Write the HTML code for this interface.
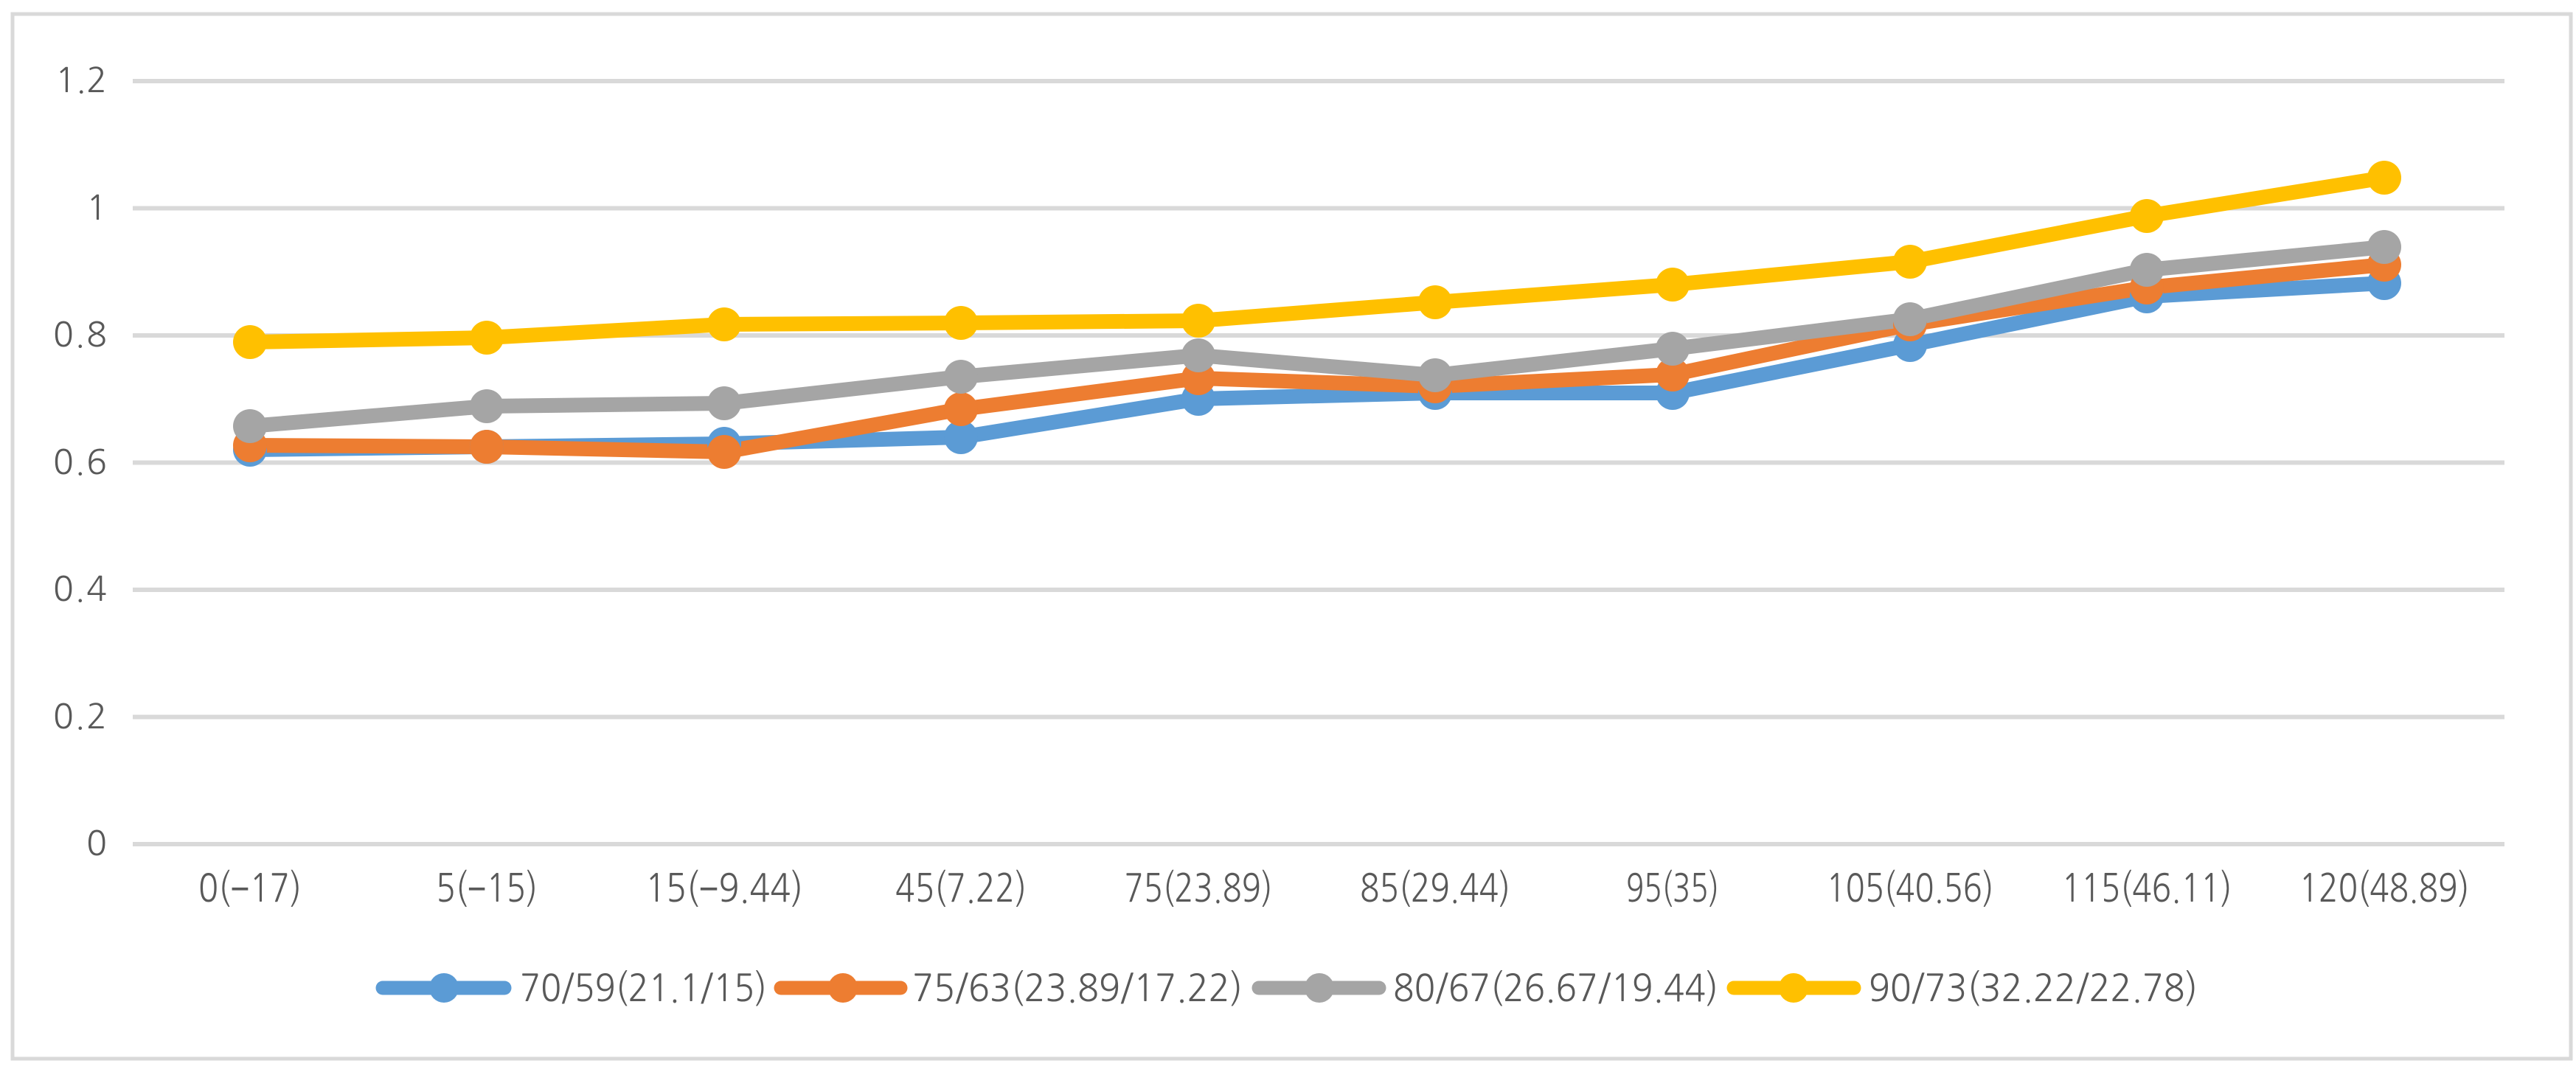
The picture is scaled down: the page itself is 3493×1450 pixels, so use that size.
<!DOCTYPE html>
<html><head><meta charset="utf-8"><style>html,body{margin:0;padding:0;background:#fff}svg{display:block}</style></head>
<body>
<svg width="3493" height="1450" xmlns="http://www.w3.org/2000/svg" font-family="'NanumGothic','Liberation Sans',sans-serif" fill="#595959">
<rect x="0" y="0" width="3493" height="1450" fill="#fff"/>
<rect x="17" y="19" width="3469" height="1417" fill="none" stroke="#d9d9d9" stroke-width="5"/>
<g stroke="#d9d9d9" stroke-width="6">
<line x1="180" x2="3396" y1="1145" y2="1145"/>
<line x1="180" x2="3396" y1="972.5" y2="972.5"/>
<line x1="180" x2="3396" y1="800" y2="800"/>
<line x1="180" x2="3396" y1="627.5" y2="627.5"/>
<line x1="180" x2="3396" y1="455" y2="455"/>
<line x1="180" x2="3396" y1="282.5" y2="282.5"/>
<line x1="180" x2="3396" y1="110" y2="110"/>
</g>
<g font-size="46" text-anchor="end">
<text x="145" y="1160">0</text>
<text x="145" y="988" textLength="73">0.2</text>
<text x="145" y="815" textLength="73">0.4</text>
<text x="145" y="643" textLength="73">0.6</text>
<text x="145" y="470" textLength="73">0.8</text>
<text x="145" y="298">1</text>
<text x="145" y="125" textLength="70">1.2</text>
</g>
<g font-size="52" text-anchor="middle">
<text x="339" y="1223" textLength="140" lengthAdjust="spacingAndGlyphs">0(−17)</text>
<text x="660" y="1223" textLength="138" lengthAdjust="spacingAndGlyphs">5(−15)</text>
<text x="982" y="1223" textLength="214" lengthAdjust="spacingAndGlyphs">15(−9.44)</text>
<text x="1303" y="1223" textLength="178" lengthAdjust="spacingAndGlyphs">45(7.22)</text>
<text x="1625" y="1223" textLength="201" lengthAdjust="spacingAndGlyphs">75(23.89)</text>
<text x="1946" y="1223" textLength="204" lengthAdjust="spacingAndGlyphs">85(29.44)</text>
<text x="2268" y="1223" textLength="126" lengthAdjust="spacingAndGlyphs">95(35)</text>
<text x="2590" y="1223" textLength="227" lengthAdjust="spacingAndGlyphs">105(40.56)</text>
<text x="2911" y="1223" textLength="231" lengthAdjust="spacingAndGlyphs">115(46.11)</text>
<text x="3233" y="1223" textLength="231" lengthAdjust="spacingAndGlyphs">120(48.89)</text>
</g>
<g fill="none" stroke-width="20" stroke-linejoin="round">
<polyline stroke="#5b9bd5" points="339,610 660,606 982,602 1303,593 1625,541 1946,533 2268,533 2590,468 2911,402 3233,384"/>
<polyline stroke="#ed7d31" points="339,604 660,606 982,613 1303,555 1625,513 1946,524 2268,508 2590,440 2911,390 3233,359"/>
<polyline stroke="#a5a5a5" points="339,578 660,551 982,547 1303,511 1625,482 1946,509 2268,473 2590,433 2911,366 3233,335"/>
<polyline stroke="#ffc000" points="339,464 660,458 982,440 1303,438 1625,435 1946,410 2268,386 2590,355 2911,293 3233,241"/>
</g>
<g fill="#5b9bd5"><circle cx="339" cy="610" r="23"/><circle cx="660" cy="606" r="23"/><circle cx="982" cy="602" r="23"/><circle cx="1303" cy="593" r="23"/><circle cx="1625" cy="541" r="23"/><circle cx="1946" cy="533" r="23"/><circle cx="2268" cy="533" r="23"/><circle cx="2590" cy="468" r="23"/><circle cx="2911" cy="402" r="23"/><circle cx="3233" cy="384" r="23"/></g>
<g fill="#ed7d31"><circle cx="339" cy="604" r="23"/><circle cx="660" cy="606" r="23"/><circle cx="982" cy="613" r="23"/><circle cx="1303" cy="555" r="23"/><circle cx="1625" cy="513" r="23"/><circle cx="1946" cy="524" r="23"/><circle cx="2268" cy="508" r="23"/><circle cx="2590" cy="440" r="23"/><circle cx="2911" cy="390" r="23"/><circle cx="3233" cy="359" r="23"/></g>
<g fill="#a5a5a5"><circle cx="339" cy="578" r="23"/><circle cx="660" cy="551" r="23"/><circle cx="982" cy="547" r="23"/><circle cx="1303" cy="511" r="23"/><circle cx="1625" cy="482" r="23"/><circle cx="1946" cy="509" r="23"/><circle cx="2268" cy="473" r="23"/><circle cx="2590" cy="433" r="23"/><circle cx="2911" cy="366" r="23"/><circle cx="3233" cy="335" r="23"/></g>
<g fill="#ffc000"><circle cx="339" cy="464" r="23"/><circle cx="660" cy="458" r="23"/><circle cx="982" cy="440" r="23"/><circle cx="1303" cy="438" r="23"/><circle cx="1625" cy="435" r="23"/><circle cx="1946" cy="410" r="23"/><circle cx="2268" cy="386" r="23"/><circle cx="2590" cy="355" r="23"/><circle cx="2911" cy="293" r="23"/><circle cx="3233" cy="241" r="23"/></g>
<g stroke-width="19" stroke-linecap="round">
<line x1="519" x2="684" y1="1340" y2="1340" stroke="#5b9bd5"/>
<line x1="1059" x2="1221" y1="1340" y2="1340" stroke="#ed7d31"/>
<line x1="1707" x2="1870" y1="1340" y2="1340" stroke="#a5a5a5"/>
<line x1="2351" x2="2514" y1="1340" y2="1340" stroke="#ffc000"/>
</g>
<circle cx="602" cy="1340" r="20" fill="#5b9bd5"/>
<circle cx="1143" cy="1340" r="20" fill="#ed7d31"/>
<circle cx="1789" cy="1340" r="20" fill="#a5a5a5"/>
<circle cx="2432" cy="1340" r="20" fill="#ffc000"/>
<g font-size="50">
<text x="705" y="1358" textLength="335" lengthAdjust="spacingAndGlyphs">70/59(21.1/15)</text>
<text x="1237" y="1358" textLength="448" lengthAdjust="spacingAndGlyphs">75/63(23.89/17.22)</text>
<text x="1889" y="1358" textLength="441" lengthAdjust="spacingAndGlyphs">80/67(26.67/19.44)</text>
<text x="2534" y="1358" textLength="446" lengthAdjust="spacingAndGlyphs">90/73(32.22/22.78)</text>
</g>
</svg>
</body></html>
